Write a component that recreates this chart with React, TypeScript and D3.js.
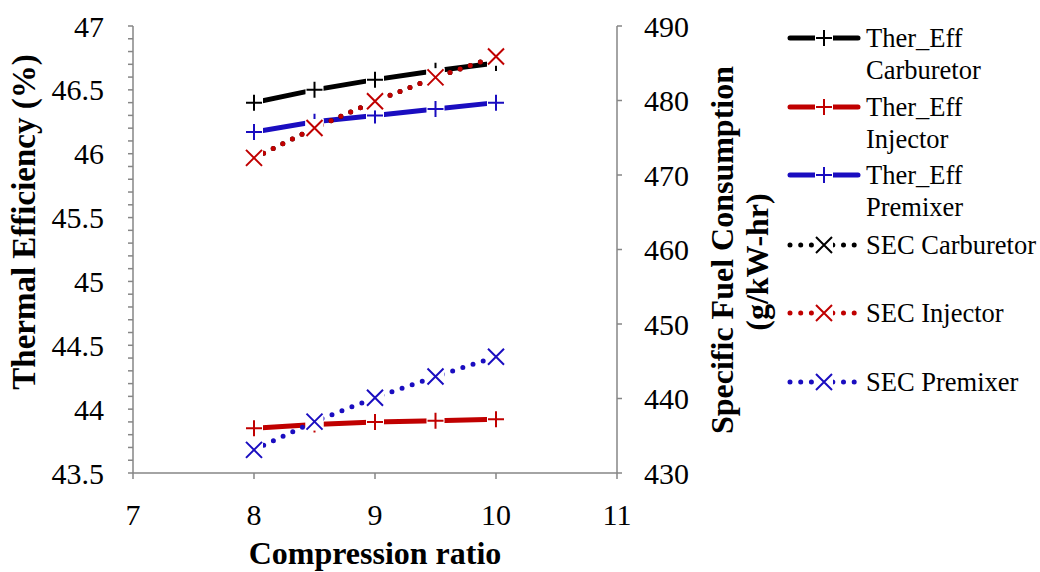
import * as d3 from 'd3'

const ratios = [8, 8.5, 9, 9.5, 10]
const therCarb = [46.4, 46.5, 46.58, 46.65, 46.71]
const therInj = [43.85, 43.88, 43.9, 43.91, 43.92]
const therPre = [46.17, 46.25, 46.3, 46.35, 46.4]
const secCarb = [472.3, 476.3, 479.9, 483.1, 485.9]
const secInj = [472.3, 476.3, 479.9, 483.1, 485.9]
const secPre = [433.1, 436.9, 440.1, 442.95, 445.6]

const xTicks = [7, 8, 9, 10, 11]
const leftTicks = [43.5, 44, 44.5, 45, 45.5, 46, 46.5, 47]
const rightTicks = [430, 440, 450, 460, 470, 480, 490]

const BLACK = '#000000'
const RED = '#C00000'
const BLUE = '#1A0DC0'
const AXIS = '#868686'
const FONT = 'Liberation Serif, Tinos, Times New Roman, DejaVu Serif, serif'

const series = [
  { name: ['Ther_Eff', 'Carburetor'], values: therCarb, color: BLACK, axis: 'L', kind: 'plus', ly: 38 },
  { name: ['Ther_Eff', 'Injector'], values: therInj, color: RED, axis: 'L', kind: 'plus', ly: 107 },
  { name: ['Ther_Eff', 'Premixer'], values: therPre, color: BLUE, axis: 'L', kind: 'plus', ly: 175 },
  { name: ['SEC Carburetor'], values: secCarb, color: BLACK, axis: 'R', kind: 'cross', ly: 245 },
  { name: ['SEC Injector'], values: secInj, color: RED, axis: 'R', kind: 'cross', ly: 313 },
  { name: ['SEC Premixer'], values: secPre, color: BLUE, axis: 'R', kind: 'cross', ly: 382 },
]

function Marker({ x, y, kind, color }) {
  const s = 8
  return (
    <g>
      <rect x={x - 9} y={y - 9} width={18} height={18} fill="#fff" />
      {kind === 'plus' ? (
        <path d={`M${x - s},${y}H${x + s}M${x},${y - s}V${y + s}`} stroke={color} strokeWidth={2} />
      ) : (
        <path
          d={`M${x - s},${y - s}L${x + s},${y + s}M${x - s},${y + s}L${x + s},${y - s}`}
          stroke={color}
          strokeWidth={2}
        />
      )}
    </g>
  )
}

export default function App() {
  const top = 26
  const bottom = 473
  const x = d3.scaleLinear().domain([7, 11]).range([133, 617])
  const yL = d3.scaleLinear().domain([43.5, 47]).range([bottom, top])
  const yR = d3.scaleLinear().domain([430, 490]).range([bottom, top])
  const minor = d3.range(43.5, 47.001, 0.1)

  const line = (vals, y) =>
    d3
      .line<number>()
      .x((_, i) => x(ratios[i]))
      .y((d) => y(d))(vals)

  return (
    <svg
      width={1040}
      height={572}
      style={{ position: 'absolute', left: 0, top: 0, background: '#fff', fontFamily: FONT }}
    >
      <rect width={1040} height={572} fill="#fff" />

      {/* axes */}
      <g stroke={AXIS} strokeWidth={1.5}>
        <line x1={x(7)} x2={x(7)} y1={top} y2={bottom} />
        <line x1={x(11)} x2={x(11)} y1={top} y2={bottom} />
        <line x1={x(7)} x2={x(11)} y1={bottom} y2={bottom} />
        {minor.map((v, i) => (
          <line key={'m' + i} x1={x(7) - 5} x2={x(7)} y1={yL(v)} y2={yL(v)} />
        ))}
        {rightTicks.map((v) => (
          <line key={'r' + v} x1={x(11)} x2={x(11) + 5} y1={yR(v)} y2={yR(v)} />
        ))}
        {xTicks.map((v) => (
          <line key={'x' + v} x1={x(v)} x2={x(v)} y1={bottom} y2={bottom + 6} />
        ))}
      </g>

      <g fontSize={30} fill="#000">
        {leftTicks.map((v) => (
          <text key={v} x={104} y={yL(v)} textAnchor="end" dominantBaseline="central">
            {v}
          </text>
        ))}
        {rightTicks.map((v) => (
          <text key={v} x={644} y={yR(v)} dominantBaseline="central">
            {v}
          </text>
        ))}
        {xTicks.map((v) => (
          <text key={v} x={x(v)} y={514} textAnchor="middle" dominantBaseline="central">
            {v}
          </text>
        ))}
      </g>

      <g fontWeight="bold" fontSize={32} fill="#000">
        <text x={375} y={553} textAnchor="middle" dominantBaseline="central">
          Compression ratio
        </text>
        <text
          transform="translate(24,222) rotate(-90)"
          textAnchor="middle"
          dominantBaseline="central"
          fontSize={33}
        >
          Thermal Efficiency (%)
        </text>
        <text transform="translate(722,250) rotate(-90)" textAnchor="middle" dominantBaseline="central">
          Specific Fuel Consumption
        </text>
        <text transform="translate(757,262) rotate(-90)" textAnchor="middle" dominantBaseline="central">
          (g/kW-hr)
        </text>
      </g>

      {/* series */}
      {series.map((s, si) => {
        const y = s.axis === 'L' ? yL : yR
        return (
          <g key={si}>
            {s.kind === 'plus' ? (
              <path d={line(s.values, y)} fill="none" stroke={s.color} strokeWidth={5} />
            ) : (
              <path
                d={line(s.values, y)}
                fill="none"
                stroke={s.color}
                strokeWidth={5}
                strokeLinecap="round"
                strokeDasharray="0 10.7"
              />
            )}
            {s.values.map((v, i) => (
              <Marker key={i} x={x(ratios[i])} y={y(v)} kind={s.kind} color={s.color} />
            ))}
          </g>
        )
      })}

      {/* legend */}
      {series.map((s, si) => (
        <g key={'lg' + si}>
          {s.kind === 'plus' ? (
            <line x1={790} x2={858} y1={s.ly} y2={s.ly} stroke={s.color} strokeWidth={5} strokeLinecap="round" />
          ) : (
            <line
              x1={790}
              x2={860}
              y1={s.ly}
              y2={s.ly}
              stroke={s.color}
              strokeWidth={5}
              strokeLinecap="round"
              strokeDasharray="0 10.7"
            />
          )}
          <Marker x={824} y={s.ly} kind={s.kind} color={s.color} />
          {s.name.map((t, ti) => (
            <text key={ti} x={866} y={s.ly + ti * 32} fontSize={26.5} dominantBaseline="central">
              {t}
            </text>
          ))}
        </g>
      ))}
    </svg>
  )
}
